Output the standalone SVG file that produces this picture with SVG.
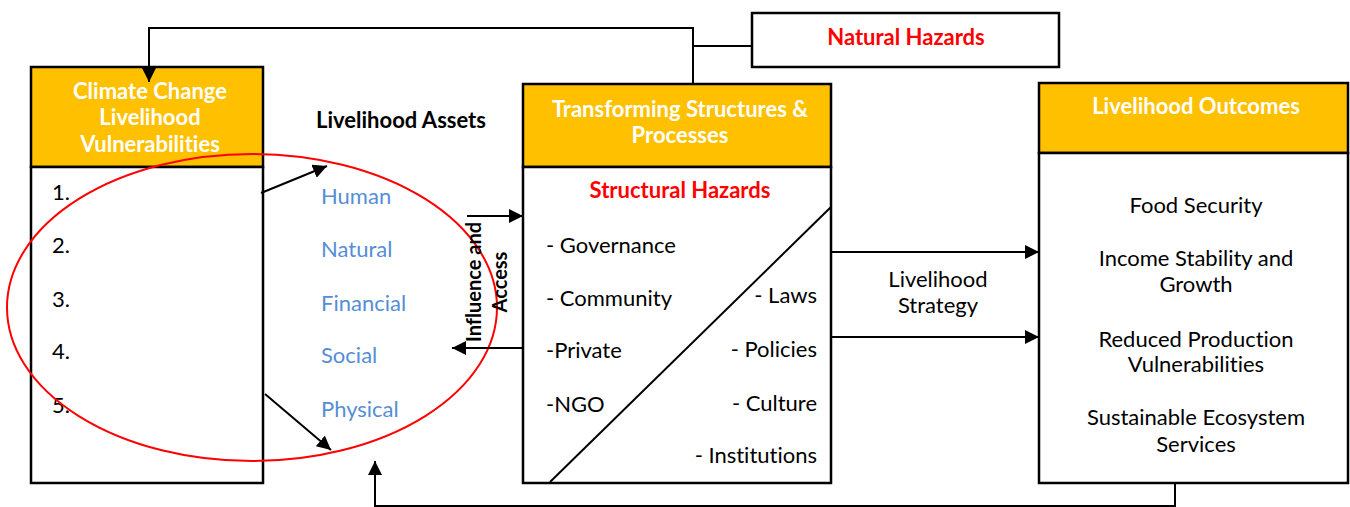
<svg xmlns="http://www.w3.org/2000/svg" width="1350" height="507" viewBox="0 0 1350 507">
<defs>
<marker id="ahb" viewBox="0 0 12 12" refX="12" refY="6" markerWidth="14" markerHeight="14" markerUnits="userSpaceOnUse" orient="auto"><path d="M0,0 L12,6 L0,12 z" fill="#000"/></marker>
<style>
text{font-family:Lato,"Liberation Sans",sans-serif;font-variant-ligatures:none;}
.hdr{fill:#FFC000;stroke:#000;stroke-width:2.5;}
.body{fill:#fff;stroke:#000;stroke-width:2.5;}
.ht{fill:#fff;font-weight:bold;font-size:22px;text-anchor:middle;}
.t{fill:#000;font-size:22px;}
.c{text-anchor:middle;}
.r{text-anchor:end;}
.red{fill:#FF0000;font-weight:bold;font-size:22px;text-anchor:middle;}
.blue{fill:#558ED5;font-size:22px;}
.bold{font-weight:bold;}
.ln{fill:none;stroke:#000;stroke-width:2;}
.rot{fill:#000;font-size:20px;font-weight:bold;text-anchor:middle;}
</style>
</defs>

<g id="climate">
<rect class="hdr" x="31" y="67" width="232" height="100"/>
<rect class="body" x="31" y="167" width="232" height="316"/>
<text class="ht" x="150" y="99">Climate Change</text>
<text class="ht" x="150" y="125">Livelihood</text>
<text class="ht" x="150" y="152">Vulnerabilities</text>
<text class="t" x="52" y="200">1.</text>
<text class="t" x="52" y="253">2.</text>
<text class="t" x="52" y="307">3.</text>
<text class="t" x="52" y="359">4.</text>
<text class="t" x="52" y="413">5.</text>
</g>

<g id="assets">
<text class="t bold" x="401" y="128" text-anchor="middle">Livelihood Assets</text>
<text class="blue" x="321" y="204">Human</text>
<text class="blue" x="321" y="257">Natural</text>
<text class="blue" x="321" y="311">Financial</text>
<text class="blue" x="321" y="363">Social</text>
<text class="blue" x="321" y="417">Physical</text>
<ellipse cx="252" cy="307.5" rx="245" ry="153.5" fill="none" stroke="#FF0000" stroke-width="2"/>
</g>

<g id="natural-hazards">
<rect class="body" x="752" y="13" width="307" height="54"/>
<text class="red" x="906" y="45">Natural Hazards</text>
</g>

<g id="transforming">
<rect class="hdr" x="523" y="84" width="308" height="83"/>
<rect class="body" x="523" y="167" width="308" height="316"/>
<text class="ht" x="680" y="117">Transforming Structures &amp;</text>
<text class="ht" x="680" y="143">Processes</text>
<text class="red" x="680" y="198">Structural Hazards</text>
<line x1="550" y1="482" x2="831" y2="207" stroke="#000" stroke-width="2"/>
<text class="t" x="546" y="253">- Governance</text>
<text class="t" x="546" y="306">- Community</text>
<text class="t" x="546" y="358">-Private</text>
<text class="t" x="546" y="412">-NGO</text>
<text class="t r" x="817" y="303">- Laws</text>
<text class="t r" x="817" y="357">- Policies</text>
<text class="t r" x="817" y="411">- Culture</text>
<text class="t r" x="817" y="463">- Institutions</text>
</g>

<g id="outcomes">
<rect class="hdr" x="1039" y="83" width="309" height="70"/>
<rect class="body" x="1039" y="153" width="309" height="330"/>
<text class="ht" x="1196" y="114">Livelihood Outcomes</text>
<text class="t c" x="1196" y="213">Food Security</text>
<text class="t c" x="1196" y="266">Income Stability and</text>
<text class="t c" x="1196" y="292">Growth</text>
<text class="t c" x="1196" y="347">Reduced Production</text>
<text class="t c" x="1196" y="372">Vulnerabilities</text>
<text class="t c" x="1196" y="425">Sustainable Ecosystem</text>
<text class="t c" x="1196" y="452">Services</text>
</g>

<g id="connectors">
<polyline class="ln" points="693,84 693,28 149,28 149,82" marker-end="url(#ahb)"/>
<line class="ln" x1="693" y1="46" x2="752" y2="46"/>
<line class="ln" x1="261" y1="193" x2="327" y2="166" marker-end="url(#ahb)"/>
<line class="ln" x1="265" y1="394" x2="331" y2="450" marker-end="url(#ahb)"/>
<line class="ln" x1="467" y1="216" x2="523" y2="216" marker-end="url(#ahb)"/>
<line class="ln" x1="523" y1="348" x2="452" y2="348" marker-end="url(#ahb)"/>
<line class="ln" x1="831" y1="252" x2="1039" y2="252" marker-end="url(#ahb)"/>
<line class="ln" x1="831" y1="337" x2="1039" y2="337" marker-end="url(#ahb)"/>
<polyline class="ln" points="1175,483 1175,506 375,506 375,461" marker-end="url(#ahb)"/>
<text class="rot" transform="translate(481,282) rotate(-90)">Influence and</text>
<text class="rot" transform="translate(507,282) rotate(-90)">Access</text>
<text class="t c" x="938" y="287">Livelihood</text>
<text class="t c" x="938" y="313">Strategy</text>
</g>
</svg>
